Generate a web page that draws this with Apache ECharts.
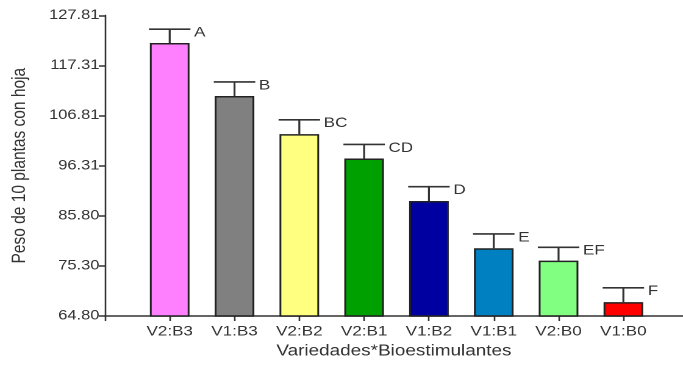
<!DOCTYPE html>
<html>
<head>
<meta charset="utf-8">
<script src="https://cdn.jsdelivr.net/npm/echarts@6/dist/echarts.min.js"></script>
<style>
  html, body { margin: 0; padding: 0; background: #fff; overflow: hidden; }
  /* the plot is laid out narrow and widened horizontally */
  #chart { width: 560px; height: 365px; transform: scaleX(1.2196); transform-origin: 0 0; }
</style>
</head>
<body>
<div id="chart"></div>
<script>
// Treatment combinations (variety x biostimulant)
const categories = ['V2:B3', 'V1:B3', 'V2:B2', 'V2:B1', 'V1:B2', 'V1:B1', 'V2:B0', 'V1:B0'];
// Mean weight of 10 plants with leaves
const means = [122.0, 110.9, 102.9, 97.8, 88.9, 79.0, 76.4, 67.7];
// Error (upper whisker length)
const errors = [2.9, 2.95, 3.0, 2.95, 3.0, 3.0, 2.8, 3.0];
// Mean separation letters
const groups = ['A', 'B', 'BC', 'CD', 'D', 'E', 'EF', 'F'];
const barColors = ['#FF80FF', '#808080', '#FFFF80', '#00A000', '#0000A0', '#0080C0', '#80FF80', '#FF0000'];
// Y axis tick labels
const yTickLabels = ['64.80', '75.30', '85.80', '96.31', '106.81', '117.31', '127.81'];

const yTicks = yTickLabels.map(Number);
const xPositions = categories.map((c, i) => i + 1);
const FONT = "'Liberation Sans', Arial, sans-serif";
const INK = '#333333';
const BAR_W = 32.5;

const chart = echarts.init(document.getElementById('chart'), null, { devicePixelRatio: 2 });

chart.setOption({
  animation: false,
  backgroundColor: '#ffffff',
  grid: { left: 86, right: 0, top: 15.3, bottom: 49, containLabel: false },
  xAxis: {
    type: 'value',
    min: 0,
    max: 8.92,
    name: 'Variedades*Bioestimulantes',
    nameLocation: 'middle',
    nameGap: 27,
    nameTextStyle: { fontFamily: FONT, fontSize: 15.5, color: INK },
    axisLine: { show: true, lineStyle: { color: INK, width: 1.5 } },
    axisTick: { show: true, length: 5, customValues: [0].concat(xPositions), lineStyle: { color: INK, width: 1.3 } },
    axisLabel: {
      customValues: xPositions,
      margin: 8.5,
      fontFamily: FONT, fontSize: 14, color: INK,
      formatter: v => categories[Math.round(v) - 1] || ''
    },
    splitLine: { show: false }
  },
  yAxis: {
    type: 'value',
    min: yTicks[0],
    max: yTicks[yTicks.length - 1],
    name: 'Peso de 10 plantas con hoja',
    nameLocation: 'middle',
    nameGap: 62,
    nameTextStyle: { fontFamily: FONT, fontSize: 15.5, color: INK },
    axisLine: { show: true, lineStyle: { color: INK, width: 1.3 } },
    axisTick: { show: true, length: 5, customValues: yTicks, lineStyle: { color: INK, width: 1.5 } },
    axisLabel: {
      customValues: yTicks,
      margin: 4.5,
      fontFamily: FONT, fontSize: 13.5, color: INK,
      formatter: v => v.toFixed(2)
    },
    splitLine: { show: false }
  },
  series: [
    {
      type: 'bar',
      barWidth: BAR_W,
      data: means.map((m, i) => ({
        value: [xPositions[i], m],
        itemStyle: { color: barColors[i], borderColor: '#222222', borderWidth: 1.5 }
      })),
      z: 2
    },
    {
      type: 'custom',
      data: means.map((m, i) => [xPositions[i], m, m + errors[i], i]),
      encode: { x: 0, y: [1, 2] },
      z: 3,
      renderItem: (params, api) => {
        const base = api.coord([api.value(0), api.value(1)]);
        const top = api.coord([api.value(0), api.value(2)]);
        const half = (BAR_W + 1.5) / 2;
        const idx = api.value(3);
        const stroke = { stroke: INK, lineWidth: 1.6 };
        return {
          type: 'group',
          children: [
            { type: 'line', shape: { x1: base[0], y1: base[1], x2: top[0], y2: top[1] }, style: stroke },
            { type: 'line', shape: { x1: top[0] - half, y1: top[1], x2: top[0] + half, y2: top[1] }, style: stroke },
            {
              type: 'text',
              x: top[0] + half + 3,
              y: top[1] + 3.5,
              style: {
                text: groups[idx], fill: INK, font: '14px ' + FONT,
                align: 'left', verticalAlign: 'middle'
              }
            }
          ]
        };
      }
    }
  ]
});
</script>
</body>
</html>
